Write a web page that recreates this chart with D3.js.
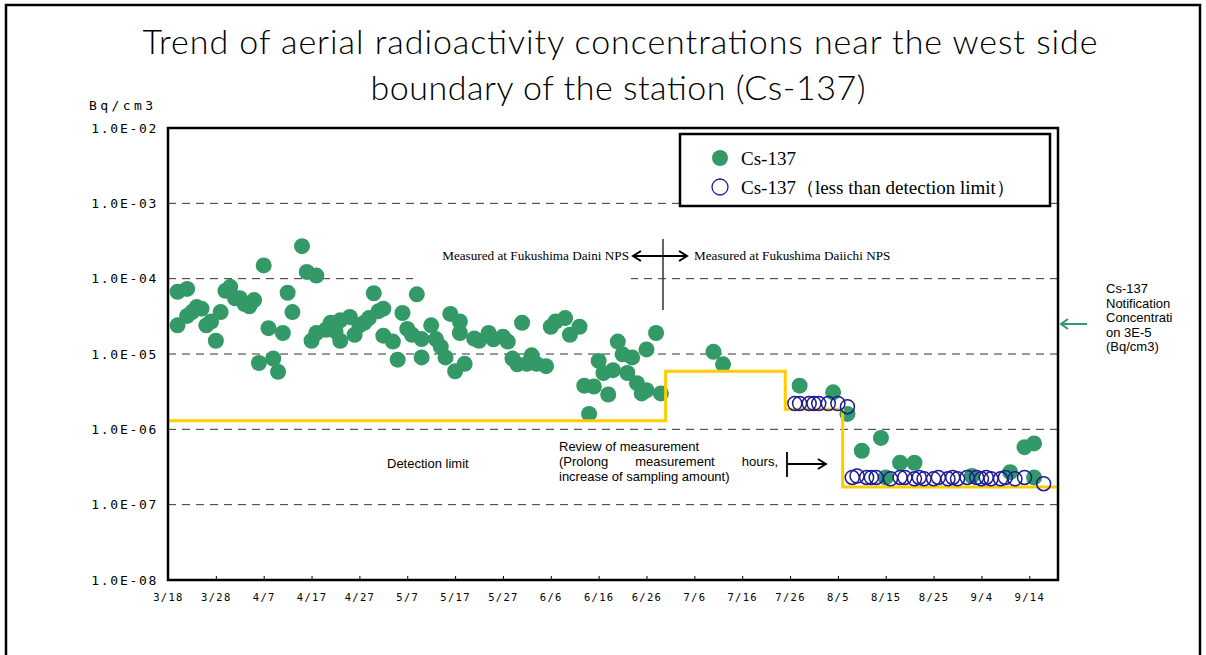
<!DOCTYPE html>
<html>
<head>
<meta charset="utf-8">
<script src="https://cdn.jsdelivr.net/npm/d3@7"></script>
<style>
body{margin:0;background:#fff;}
svg{display:block;}
</style>
</head>
<body>
<svg width="1206" height="655"></svg>
<script>
// Cs-137 measured values (month/day, Bq/cm3)
var greenDates = ['3/20','3/20','3/22','3/22','3/23','3/24','3/25','3/26','3/27','3/28',
    '3/29','3/30','3/31','4/1','4/2','4/3','4/4','4/5','4/6','4/7',
    '4/8','4/9','4/10','4/11','4/12','4/13','4/15','4/16','4/18','4/17',
    '4/18','4/20','4/21','4/22','4/23','4/23','4/25','4/26','4/27','4/28',
    '4/29','4/30','5/1','5/2','5/2','5/4','5/5','5/6','5/7','5/8',
    '5/9','5/10','5/10','5/12','5/13','5/14','5/15','5/16','5/17','5/18',
    '5/18','5/19','5/21','5/22','5/24','5/25','5/27','5/28','5/31','5/29',
    '5/30','6/1','6/2','6/3','6/5','6/6','6/7','6/9','6/10','6/12',
    '6/13','6/14','6/15','6/16','6/17','6/18','6/19','6/20','6/21','6/22',
    '6/23','6/24','6/25','6/26','6/26','6/28','6/29','7/10','7/12','7/28',
    '8/4','8/7','8/10','8/14','8/15','8/18','8/21','9/2','9/10','9/13',
    '9/15','9/15'];
var greenValues = [2.4e-5,6.7e-5,7.3e-5,3.2e-5,3.6e-5,4.2e-5,4.0e-5,2.4e-5,2.7e-5,1.5e-5,
    3.6e-5,6.9e-5,7.8e-5,5.5e-5,5.5e-5,4.6e-5,4.3e-5,5.2e-5,7.6e-6,1.5e-4,
    2.2e-5,8.7e-6,5.8e-6,1.9e-5,6.5e-5,3.6e-5,2.7e-4,1.23e-4,1.1e-4,1.5e-5,
    1.9e-5,2.1e-5,2.6e-5,2.0e-5,1.5e-5,2.8e-5,3.1e-5,1.8e-5,2.4e-5,2.6e-5,
    3.0e-5,6.4e-5,3.7e-5,4.0e-5,1.75e-5,1.46e-5,8.4e-6,3.5e-5,2.15e-5,1.8e-5,
    6.2e-5,9.0e-6,1.58e-5,2.4e-5,1.58e-5,1.25e-5,9.0e-6,3.4e-5,5.9e-6,1.9e-5,
    2.7e-5,7.4e-6,1.6e-5,1.5e-5,1.9e-5,1.57e-5,1.7e-5,1.46e-5,2.6e-5,8.7e-6,
    7.3e-6,7.4e-6,9.6e-6,7.4e-6,6.9e-6,2.3e-5,2.7e-5,3.0e-5,1.8e-5,2.3e-5,
    3.8e-6,1.6e-6,3.7e-6,8.1e-6,5.6e-6,2.9e-6,6.1e-6,1.46e-5,9.9e-6,5.6e-6,
    9.0e-6,4.1e-6,3.0e-6,1.15e-5,3.3e-6,1.9e-5,3.0e-6,1.07e-5,7.3e-6,3.8e-6,
    3.1e-6,1.6e-6,5.2e-7,7.7e-7,2.3e-7,3.6e-7,3.6e-7,2.4e-7,2.7e-7,5.8e-7,
    6.5e-7,2.3e-7];

// Cs-137 less than detection limit
var blueDates = ['7/27','7/28','7/30','7/31','8/1','8/3','8/5','8/7',
    '8/8','8/9','8/11','8/12','8/13','8/16','8/18','8/19','8/21','8/22',
    '8/23','8/25','8/26','8/28','8/29','8/30','9/1','9/3','9/4','9/5',
    '9/6','9/8','9/9','9/11','9/13','9/17'];
var blueValues = [2.2e-6,2.2e-6,2.2e-6,2.2e-6,2.2e-6,2.2e-6,2.2e-6,2.0e-6,
    2.3e-7,2.4e-7,2.3e-7,2.3e-7,2.3e-7,2.2e-7,2.3e-7,2.3e-7,2.2e-7,2.3e-7,
    2.2e-7,2.2e-7,2.3e-7,2.2e-7,2.3e-7,2.2e-7,2.3e-7,2.3e-7,2.2e-7,2.3e-7,
    2.2e-7,2.2e-7,2.3e-7,2.2e-7,2.3e-7,1.9e-7];

// detection limit (step line)
var limitDates = ['3/18','6/30','7/25','8/6','9/20'];
var limitValues = [1.3e-6,5.9e-6,1.85e-6,1.72e-7,1.72e-7];

var xTickLabels = ['3/18','3/28','4/7','4/17','4/27','5/7','5/17','5/27','6/6','6/16',
    '6/26','7/6','7/16','7/26','8/5','8/15','8/25','9/4','9/14'];
var yTickValues = [1e-8,1e-7,1e-6,1e-5,1e-4,1e-3,1e-2];
var yTickLabels = ['1.0E-08','1.0E-07','1.0E-06','1.0E-05','1.0E-04','1.0E-03','1.0E-02'];

var svg = d3.select('svg');
var plot = {l: 168, r: 1058, t: 128, b: 580};

var parseDate = d3.timeParse('%Y/%m/%d');
function toDate(s){ return parseDate('2011/' + s); }

var x = d3.scaleTime()
    .domain([toDate('3/18'), toDate('9/20')])
    .range([plot.l, plot.r]);
var y = d3.scaleLog()
    .domain([1e-8, 1e-2])
    .range([plot.b, plot.t]);

var green = '#339966';
var navy = '#1c1c96';

// outer frame
svg.append('rect')
    .attr('x', 6).attr('y', 5)
    .attr('width', 1194).attr('height', 700)
    .style('fill', 'none')
    .style('stroke', 'black')
    .style('stroke-width', '2.5px');

// title
svg.append('text')
    .attr('text-anchor', 'middle')
    .attr('x', 620).attr('y', 54)
    .attr('textLength', 955)
    .style('font-family', 'Lato, sans-serif')
    .style('font-weight', '300')
    .style('font-size', '34px')
    .text('Trend of aerial radioactivity concentrations near the west side');
svg.append('text')
    .attr('text-anchor', 'middle')
    .attr('x', 618).attr('y', 100)
    .attr('textLength', 495)
    .style('font-family', 'Lato, sans-serif')
    .style('font-weight', '300')
    .style('font-size', '34px')
    .text('boundary of the station (Cs-137)');

// unit
svg.append('text')
    .attr('x', 89).attr('y', 110)
    .style('font-family', '"DejaVu Sans Mono", monospace')
    .style('font-size', '13px')
    .style('letter-spacing', '3.4px')
    .text('Bq/cm3');

// gridlines
svg.append('g')
    .selectAll('line')
    .data(yTickValues.slice(1, -1))
    .enter()
    .append('line')
    .attr('x1', plot.l).attr('x2', plot.r)
    .attr('y1', function(d){ return y(d); })
    .attr('y2', function(d){ return y(d); })
    .style('stroke', '#333')
    .style('stroke-width', '1px')
    .style('stroke-dasharray', '8,6');

// y axis labels
var yAxis = d3.axisLeft(y)
    .tickValues(yTickValues)
    .tickSize(0)
    .tickPadding(10)
    .tickFormat(function(d, i){ return yTickLabels[i]; });
var gy = svg.append('g')
    .attr('transform', 'translate(' + plot.l + ',0)')
    .call(yAxis);
gy.select('.domain').remove();
gy.selectAll('text')
    .style('font-family', '"DejaVu Sans Mono", monospace')
    .style('font-size', '13px')
    .style('letter-spacing', '1.7px')
    .style('fill', 'black');

// x axis
var xAxis = d3.axisBottom(x)
    .tickValues(xTickLabels.map(toDate))
    .tickSizeInner(-4)
    .tickSizeOuter(0)
    .tickPadding(14)
    .tickFormat(function(d, i){ return xTickLabels[i]; });
var gx = svg.append('g')
    .attr('transform', 'translate(0,' + plot.b + ')')
    .call(xAxis);
gx.select('.domain').remove();
gx.selectAll('line').style('stroke', 'black');
gx.selectAll('text')
    .style('font-family', '"DejaVu Sans Mono", monospace')
    .style('font-size', '10.5px')
    .style('letter-spacing', '1.3px')
    .style('fill', 'black');

// white box behind the Daini label
svg.append('rect')
    .attr('x', 413).attr('y', 240)
    .attr('width', 218).attr('height', 42)
    .style('fill', 'white');

// measured points
svg.append('g')
    .selectAll('circle')
    .data(greenDates)
    .enter()
    .append('circle')
    .attr('cx', function(d){ return x(toDate(d)); })
    .attr('cy', function(d, i){ return y(greenValues[i]); })
    .attr('r', 8)
    .style('fill', green);

// detection limit
var limitLine = d3.line()
    .curve(d3.curveStepAfter)
    .x(function(d){ return x(toDate(d)); })
    .y(function(d, i){ return y(limitValues[i]); });
svg.append('path')
    .datum(limitDates)
    .attr('d', limitLine)
    .style('fill', 'none')
    .style('stroke', '#ffcc00')
    .style('stroke-width', '3px');

// below detection limit
svg.append('g')
    .selectAll('circle')
    .data(blueDates)
    .enter()
    .append('circle')
    .attr('cx', function(d){ return x(toDate(d)); })
    .attr('cy', function(d, i){ return y(blueValues[i]); })
    .attr('r', 7)
    .style('fill', 'none')
    .style('stroke', navy)
    .style('stroke-width', '1.5px');

// plot frame
svg.append('rect')
    .attr('x', plot.l).attr('y', plot.t)
    .attr('width', plot.r - plot.l).attr('height', plot.b - plot.t)
    .style('fill', 'none')
    .style('stroke', 'black')
    .style('stroke-width', '2.5px');

// legend
var legend = svg.append('g')
    .attr('transform', 'translate(680,134)');
legend.append('rect')
    .attr('width', 370).attr('height', 72)
    .style('fill', 'white')
    .style('stroke', 'black')
    .style('stroke-width', '2.5px');
legend.append('circle')
    .attr('cx', 40).attr('cy', 24).attr('r', 8)
    .style('fill', green);
legend.append('circle')
    .attr('cx', 40).attr('cy', 53).attr('r', 8)
    .style('fill', 'none')
    .style('stroke', navy)
    .style('stroke-width', '1.3px');
legend.append('text')
    .attr('x', 61).attr('y', 31)
    .style('font-family', '"Liberation Serif", serif')
    .style('font-size', '19px')
    .text('Cs-137');
legend.append('text')
    .attr('x', 61).attr('y', 60)
    .style('font-family', '"Liberation Serif", serif')
    .style('font-size', '19px')
    .text('Cs-137（less than detection limit）');

// station change marker
svg.append('line')
    .attr('x1', 663).attr('x2', 663)
    .attr('y1', 239).attr('y2', 310)
    .style('stroke', '#333')
    .style('stroke-width', '1.5px');
svg.append('path')
    .attr('d', 'M633,256L687,256M641,251L633,256L641,261M679,251L687,256L679,261')
    .style('fill', 'none')
    .style('stroke', 'black')
    .style('stroke-width', '2px');
svg.append('text')
    .attr('text-anchor', 'end')
    .attr('x', 629).attr('y', 260)
    .style('font-family', '"Liberation Serif", serif')
    .style('font-size', '13.2px')
    .text('Measured at Fukushima Daini NPS');
svg.append('text')
    .attr('x', 694).attr('y', 260)
    .style('font-family', '"Liberation Serif", serif')
    .style('font-size', '13.2px')
    .text('Measured at Fukushima Daiichi NPS');

// detection limit + review notes
var note = svg.append('g')
    .style('font-family', '"Liberation Sans", Arial, sans-serif')
    .style('font-size', '13px');
note.append('text').attr('x', 387).attr('y', 468).text('Detection limit');
note.append('text').attr('x', 559).attr('y', 451).text('Review of measurement');
note.append('text').attr('x', 559).attr('y', 466).text('(Prolong');
note.append('text').attr('x', 675).attr('y', 466).attr('text-anchor', 'middle').text('measurement');
note.append('text').attr('x', 778).attr('y', 466).attr('text-anchor', 'end').text('hours,');
note.append('text').attr('x', 559).attr('y', 481).text('increase of sampling amount)');
svg.append('path')
    .attr('d', 'M787,452L787,477M787,464L826,464M818,459L826,464L818,469')
    .style('fill', 'none')
    .style('stroke', 'black')
    .style('stroke-width', '1.8px');

// notification concentration
var notifY = y(3e-5) + 6;
svg.append('path')
    .attr('d', 'M1087,' + notifY + 'L1061,' + notifY + 'M1068,' + (notifY - 5) + 'L1061,' + notifY + 'L1068,' + (notifY + 5))
    .style('fill', 'none')
    .style('stroke', green)
    .style('stroke-width', '2px');
var notifLines = ['Cs-137', 'Notification', 'Concentrati', 'on 3E-5', '(Bq/cm3)'];
svg.append('g')
    .selectAll('text')
    .data(notifLines)
    .enter()
    .append('text')
    .attr('x', 1106)
    .attr('y', function(d, i){ return 293 + i * 14.6; })
    .style('font-family', '"Liberation Sans", Arial, sans-serif')
    .style('font-size', '13px')
    .text(function(d){ return d; });
</script>
</body>
</html>
